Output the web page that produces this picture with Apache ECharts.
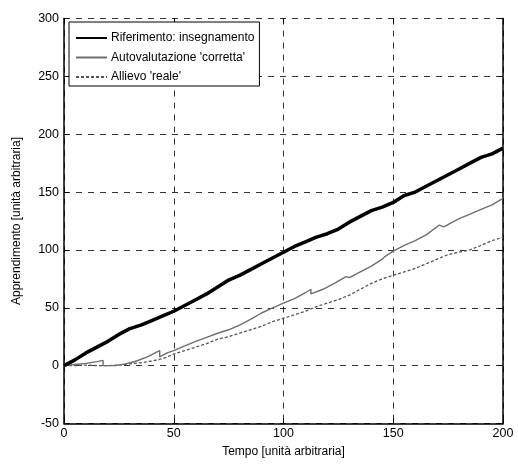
<!DOCTYPE html>
<html>
<head>
<meta charset="utf-8">
<script src="https://cdn.jsdelivr.net/npm/echarts@6/dist/echarts.min.js"></script>
<style>
  html, body { margin: 0; padding: 0; background: #fff; }
  #main { width: 518px; height: 464px; }
</style>
</head>
<body>
<div id="main"></div>
<script>
// dati (tempo, apprendimento)
var tempoRif = [0,5,10,15,20,25,30,35,40,45,50,55,60,65,70,75,80,85,90,95,100,
    105,110,115,120,125,130,135,140,145,150,155,160,165,170,175,180,185,190,195,200];
var riferimento = [0,5,11,16,21,27,32,35,39,43,47,52,57,62,68,74,78,83,88,93,98,
    103,107,111,114,118,124,129,134,137,141,147,150,155,160,165,170,175,180,183,188];

var tempoAuto = [0,5,10,15,17.8,17.8,23,28,33,38,43.6,43.6,47,50,55,60,65,70,75,80,85,90,95,100,
    105,110,112.5,112.5,118,124,128.5,130,135,140,145,146,150,155,160,165,171,173,180,185,190,195,200];
var autovalutazione = [0,1,2,3.5,4.5,0,0,1.5,4,7.5,13,7.5,11,13,17,21,24.5,28,31,35,40,45.5,50,54,
    58,63,66,62,66,72,77,76,81,86,92,94,99,104,108,113,121.5,120,127,131,135,139,144.5];

var tempoAllievo = [0,5,10,15,20,25,30,35,40,45,50,55,60,65,70,75,80,85,90,95,100,
    105,110,115,120,125,130,135,140,145,150,155,160,165,170,175,180,185,190,195,200];
var allievo = [0,0,0.5,0,0,0.5,1.5,2.5,4,6,10,13,16,19,23,25,28,31,34,38,41,
    44,47,51,54,57,61,66,71,75,78,81,84,88,92,96,98,100,104,108,111];

var xTicks = [0, 200, 50];
var yTicks = [-50, 300, 50];

function coppie(xs, ys) {
    var out = [];
    for (var i = 0; i < xs.length; i++) {
        out.push([xs[i], ys[i]]);
    }
    return out;
}

var myChart = echarts.init(document.getElementById('main'));
var font = 'Liberation Sans, Arial, sans-serif';
var dash = { type: [6, 6], color: '#000', width: 0.8 };

option = {
    animation: false,
    backgroundColor: '#fff',
    textStyle: { fontFamily: font },
    grid: { left: 64, right: 15, top: 18.5, bottom: 40.5 },
    legend: {
        orient: 'vertical',
        left: 69,
        top: 22,
        itemWidth: 31,
        itemHeight: 14,
        itemGap: 7.5,
        padding: [10, 5, 3, 6],
        backgroundColor: '#fff',
        borderColor: '#000',
        borderWidth: 1,
        borderRadius: 0,
        itemStyle: { opacity: 0 },
        textStyle: { fontFamily: font, fontSize: 12, color: '#000', padding: [0, 0, 0, -1] },
        data: ['Riferimento: insegnamento', "Autovalutazione 'corretta'", "Allievo 'reale'"]
    },
    xAxis: [{
        type: 'value',
        min: xTicks[0], max: xTicks[1], interval: xTicks[2],
        name: 'Tempo [unità arbitraria]',
        nameLocation: 'middle',
        nameGap: 22,
        nameTextStyle: { fontFamily: font, fontSize: 12, color: '#000' },
        axisLine: { onZero: false, lineStyle: { color: '#000', width: 1.5 } },
        axisTick: { inside: true, length: 5, lineStyle: { color: '#000' } },
        axisLabel: { color: '#000', fontSize: 12.5, fontFamily: font, margin: 4 },
        splitLine: { show: true, lineStyle: dash }
    }, {
        type: 'value',
        position: 'top',
        min: xTicks[0], max: xTicks[1], interval: xTicks[2],
        axisLine: { show: false, onZero: false },
        axisTick: { inside: true, length: 5, lineStyle: { color: '#000' } },
        axisLabel: { show: false },
        splitLine: { show: false }
    }],
    yAxis: [{
        type: 'value',
        min: yTicks[0], max: yTicks[1], interval: yTicks[2],
        name: 'Apprendimento [unità arbitraria]',
        nameLocation: 'middle',
        nameGap: 41,
        nameTextStyle: { fontFamily: font, fontSize: 12, color: '#000' },
        axisLine: { show: true, onZero: false, lineStyle: { color: '#000', width: 1.5 } },
        axisTick: { show: true, inside: true, length: 5, lineStyle: { color: '#000' } },
        axisLabel: { color: '#000', fontSize: 12.5, fontFamily: font, margin: 5 },
        splitLine: { show: true, lineStyle: dash }
    }, {
        type: 'value',
        position: 'right',
        min: yTicks[0], max: yTicks[1], interval: yTicks[2],
        axisLine: { show: true, onZero: false, lineStyle: { color: '#000', width: 1.5 } },
        axisTick: { show: true, inside: true, length: 5, lineStyle: { color: '#000' } },
        axisLabel: { show: false },
        splitLine: { show: false }
    }],
    series: [{
        name: 'Riferimento: insegnamento',
        type: 'line',
        symbol: 'none',
        data: coppie(tempoRif, riferimento),
        lineStyle: { color: '#000', width: 3.5 },
        itemStyle: { color: '#000' },
        z: 5
    }, {
        name: "Autovalutazione 'corretta'",
        type: 'line',
        symbol: 'none',
        data: coppie(tempoAuto, autovalutazione),
        lineStyle: { color: '#6e6e6e', width: 1.4 },
        itemStyle: { color: '#6e6e6e' },
        z: 4
    }, {
        name: "Allievo 'reale'",
        type: 'line',
        symbol: 'none',
        data: coppie(tempoAllievo, allievo),
        lineStyle: { color: '#555', width: 1.3, type: [3, 2] },
        itemStyle: { color: '#555' },
        z: 3
    }]
};
myChart.setOption(option);
</script>
</body>
</html>
